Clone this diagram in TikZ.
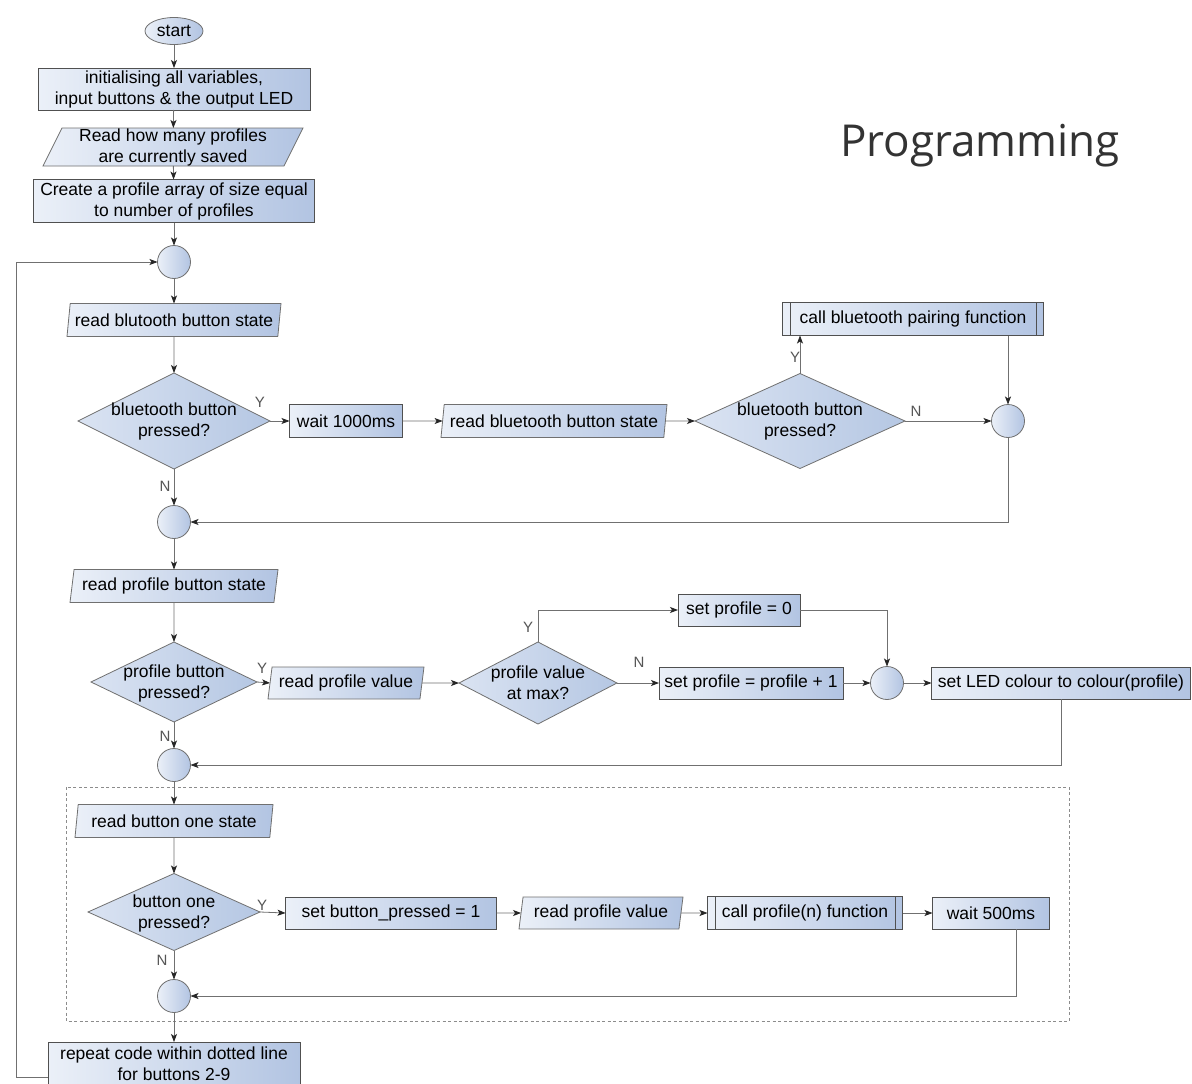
\documentclass[tikz,border=0pt]{standalone}
\usepackage{fontspec}
\setmainfont{Liberation Sans}
\newfontfamily\titlefont{Open Sans}
\usetikzlibrary{shapes.geometric,arrows.meta}
\definecolor{lc}{HTML}{EBF0F8}
\definecolor{rc}{HTML}{B2C4E2}
\definecolor{dlc}{HTML}{DAE3F2}
\definecolor{drc}{HTML}{B5C7E3}
\definecolor{bd}{HTML}{505050}
\definecolor{ln}{HTML}{707070}
\definecolor{lb}{HTML}{555555}
\definecolor{tip}{HTML}{262626}
\begin{document}
\begin{tikzpicture}[x=1pt,y=-1pt,
  base/.style={draw=bd, line width=0.8pt, left color=lc, right color=rc,
    font=\fontsize{17.5}{21}\selectfont, align=center, inner sep=0pt, outer sep=0pt},
  proc/.style={base, rectangle},
  sub/.style={base, rectangle},
  io/.style={base, trapezium, trapezium left angle=76, trapezium right angle=104,
    trapezium stretches body, inner xsep=2pt, draw=ln},
  dec/.style={base, diamond, draw=ln, left color=dlc, right color=drc},
  dtext/.style={font=\fontsize{17.5}{21}\selectfont, align=center, inner sep=0pt},
  conn/.style={ellipse, base, draw=ln, minimum size=33pt},
  term/.style={base, ellipse, draw=ln},
  arr/.style={draw=ln, line width=0.8pt, -{Stealth[length=8pt,width=6pt,inset=2pt,color=tip]}},
  lab/.style={font=\fontsize{15}{18}\selectfont, text=lb, inner sep=0pt},
  dashbox/.style={draw=black!45, line width=0.7pt, dash pattern=on 3pt off 2.5pt}
]
\useasboundingbox (0,0) rectangle (1192,1084);
\fill[white] (0,0) rectangle (1192,1084);

\node[font=\titlefont\fontsize{44}{50}\selectfont, text=black!80, inner sep=0pt] (title) at (980,146) {Programming};

\draw[dashbox] (66,787) rectangle (1069,1021);

% top chain
\node[term, minimum width=58pt, minimum height=27pt] (start) at (174,31) {start};
\node[proc, minimum width=272pt, minimum height=42pt] (init) at (174,89) {initialising all variables,\\input buttons \& the output LED};
\node[io, trapezium left angle=63, trapezium right angle=117, minimum width=260pt, minimum height=38pt] (prof) at (173,147) {Read how many profiles\\are currently saved};
\node[proc, minimum width=281pt, minimum height=43pt] (arr) at (174,201) {Create a profile array of size equal\\to number of profiles};
\node[conn] (c1) at (174,262) {};

% bluetooth section
\node[io, minimum width=214pt, minimum height=33pt] (rbt) at (174,320) {read blutooth button state};
\node[dec, minimum width=192pt, minimum height=96pt] (d1) at (174,421) {};
\node[dtext] (d1t) at (174,421) {bluetooth button\\pressed?};
\node[proc, minimum width=113pt, minimum height=33pt] (w1000) at (346,421) {wait 1000ms};
\node[io, minimum width=226pt, minimum height=33pt] (rbt2) at (554,421) {read bluetooth button state};
\node[dec, minimum width=210pt, minimum height=95pt] (d2) at (800,421) {};
\node[dtext] (d2t) at (800,421) {bluetooth button\\pressed?};
\node[sub, minimum width=261pt, minimum height=33pt] (cbp) at (913,319) {call bluetooth pairing function};
\draw[draw=bd, line width=0.8pt] ([xshift=8pt]cbp.north west) -- ([xshift=8pt]cbp.south west)
  ([xshift=-7pt]cbp.north east) -- ([xshift=-7pt]cbp.south east);
\node[conn] (c2) at (1008,421) {};
\node[conn] (c3) at (174,522) {};

% profile section
\node[io, minimum width=208pt, minimum height=33pt] (rpb) at (174,586) {read profile button state};
\node[dec, minimum width=166pt, minimum height=80pt] (d3) at (174,682) {};
\node[dtext] (d3t) at (174,683) {profile button\\pressed?};
\node[io, minimum width=156pt, minimum height=32pt] (rpv) at (346,683) {read profile value};
\node[dec, minimum width=158pt, minimum height=82pt] (d4) at (538,683) {};
\node[dtext] (d4t) at (538,683) {profile value\\at max?};
\node[proc, minimum width=122pt, minimum height=32pt] (sp0) at (739,610) {set profile = 0};
\node[proc, minimum width=184pt, minimum height=32pt] (sp1) at (751,683) {set profile = profile + 1};
\node[conn] (c4) at (887,683) {};
\node[proc, minimum width=259pt, minimum height=32pt] (led) at (1061,683) {set LED colour to colour(profile)};
\node[conn] (c5) at (174,765) {};

% button one section
\node[io, minimum width=198pt, minimum height=33pt] (rb1) at (174,821) {read button one state};
\node[dec, minimum width=172pt, minimum height=77pt] (d5) at (174,912) {};
\node[dtext] (d5t) at (174,913) {button one\\pressed?};
\node[proc, minimum width=211pt, minimum height=32pt] (sbp) at (391,913) {set button\_pressed = 1};
\node[io, minimum width=164pt, minimum height=32pt] (rpv2) at (601,913) {read profile value};
\node[sub, minimum width=195pt, minimum height=33pt] (cpf) at (805,913) {call profile(n) function};
\draw[draw=bd, line width=0.8pt] ([xshift=8pt]cpf.north west) -- ([xshift=8pt]cpf.south west)
  ([xshift=-7pt]cpf.north east) -- ([xshift=-7pt]cpf.south east);
\node[proc, minimum width=117pt, minimum height=32pt] (w500) at (991,913) {wait 500ms};
\node[conn] (c6) at (174,996) {};
\node[proc, minimum width=252pt, minimum height=44pt] (rep) at (174,1064) {repeat code within dotted line\\for buttons 2-9};
\coordinate (loopx) at (16,1077);

% connectors
\draw[arr] (start) -- (init);
\draw[arr] (init) -- (prof);
\draw[arr] (prof) -- (arr);
\draw[arr] (arr) -- (c1);
\draw[arr] (c1) -- (rbt);
\draw[arr] (rbt) -- (d1);
\draw[arr] (d1.east) -- (w1000.west);
\draw[arr] (w1000.east) -- (rbt2.west);
\draw[arr] (rbt2.east) -- (d2.west);
\draw[arr] (d2.north) -- (d2.north |- cbp.south);
\draw[arr] (d2.east) -- (c2.west);
\draw[arr] (c2 |- cbp.south) -- (c2.north);
\draw[arr] (c2.south) |- (c3.east);
\draw[arr] (d1.south) -- (c3.north);
\draw[arr] (c3) -- (rpb);
\draw[arr] (rpb) -- (d3);
\draw[arr] (d3.east) -- (rpv.west);
\draw[arr] (rpv.east) -- (d4.west);
\draw[arr] (d4.north) |- (sp0.west);
\draw[arr] (d4.east) -- (sp1.west);
\draw[arr] (sp0.east) -| (c4.north);
\draw[arr] (sp1.east) -- (c4.west);
\draw[arr] (c4.east) -- (led.west);
\draw[arr] (led.south) |- (c5.east);
\draw[arr] (d3.south) -- (c5.north);
\draw[arr] (c5) -- (rb1);
\draw[arr] (rb1) -- (d5);
\draw[arr] (d5.east) -- (sbp.west);
\draw[arr] (sbp.east) -- (rpv2.west);
\draw[arr] (rpv2.east) -- (cpf.west);
\draw[arr] (cpf.east) -- (w500.west);
\draw[arr] ([xshift=25pt]w500.south) |- (c6.east);
\draw[arr] (d5.south) -- (c6.north);
\draw[arr] (c6) -- (rep);
\draw[arr] ([yshift=-13pt]rep.west) -- (loopx) |- (c1.west);

% labels
\node[lab] (y1) at (260,402) {Y};
\node[lab] (n1) at (165,486) {N};
\node[lab] (y2) at (795,357) {Y};
\node[lab] (n2) at (916,411) {N};
\node[lab] (y3) at (262,668) {Y};
\node[lab] (n3) at (165,736) {N};
\node[lab] (y4) at (528,627) {Y};
\node[lab] (n4) at (639,662) {N};
\node[lab] (y5) at (262,905) {Y};
\node[lab] (n5) at (162,960) {N};
\end{tikzpicture}
\end{document}
